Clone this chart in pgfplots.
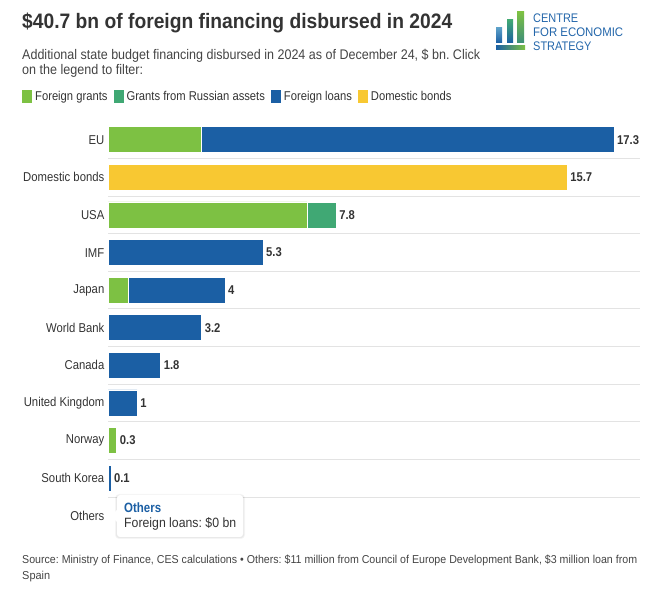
\documentclass[border=0pt]{standalone}
\usepackage{pgfplots}
\pgfplotsset{compat=1.18}
\usepackage{pgfplotstable}
\usepackage{graphicx}
\usepackage{fontspec}
\setmainfont{Liberation Sans}[FakeStretch=0.88]
\frenchspacing
\definecolor{cgreen}{HTML}{7DC143}
\definecolor{crus}{HTML}{40A874}
\definecolor{cblue}{HTML}{1B5FA4}
\definecolor{cyellow}{HTML}{F8C832}
\definecolor{ctext}{HTML}{333333}
\definecolor{csub}{HTML}{444444}
\definecolor{cgrid}{HTML}{E3E3E3}
\definecolor{clogo}{HTML}{2366AA}
\definecolor{clogoa}{HTML}{5B9FC8}
\definecolor{clogob}{HTML}{3C8E7A}
\newcommand\fitx[2]{\sbox0{#2}\pgfmathsetmacro\fitf{#1/\the\wd0}\scalebox{\fitf}[1]{\usebox0}}

\pgfplotstableread{
idx grants russian loans bonds
0 3.2 0 14.1 0
1 0 0 0 15.7
2 6.8 1.0 0 0
3 0 0 5.3 0
4 0.7 0 3.3 0
5 0 0 3.2 0
6 0 0 1.8 0
7 0 0 1.0 0
8 0.3 0 0 0
9 0 0 0.1 0
10 0 0 0.014 0
}\bars

\pgfplotstableread{
idx v lab
0 17.3 17.3
1 15.7 15.7
2 7.8 7.8
3 5.3 5.3
4 4.0 4
5 3.2 3.2
6 1.8 1.8
7 1.0 1
8 0.3 0.3
9 0.1 0.1
}\labs

\begin{document}
\begin{tikzpicture}[x=1bp,y=1bp]
\path[use as bounding box] (0,0) rectangle (666,594);
\begin{axis}[
  at={(108bp,473bp)}, anchor=north west,
  scale only axis, width=532bp, height=413.6bp,
  xmin=0, xmax=18.19, ymin=-0.5, ymax=10.5, y dir=reverse,
  xbar stacked, bar width=26bp,
  axis line style={draw=none},
  major tick length=0pt, minor tick length=0pt,
  xtick=\empty,
  ytick={0,1,2,3,4,5,6,7,8,9,10},
  yticklabels={EU,Domestic bonds,USA,IMF,Japan,World Bank,Canada,United Kingdom,Norway,South Korea,Others},
  minor ytick={0.5,1.5,2.5,3.5,4.5,5.5,6.5,7.5,8.5,9.5},
  yminorgrids, minor grid style={cgrid, line width=1bp},
  yticklabel style={font=\fontsize{12.9}{15}\selectfont, text=ctext, anchor=east, inner sep=0pt, xshift=-3.5bp},
  legend style={at={(axis description cs:-0.1617,1.075)}, anchor=north west, draw=none, fill=none,
    legend columns=-1, font=\fontsize{12.8}{14}\selectfont, text=ctext, inner sep=0pt,
    nodes={inner sep=0pt},
    /tikz/every odd column/.append style={column sep=3bp},
    /tikz/every even column/.append style={column sep=6bp}},
  legend image code/.code={\fill[#1,draw=none] (0bp,-6.5bp) rectangle (10bp,6.5bp);},
]
\addplot[fill=cgreen, draw=white, line width=0.7bp] table[x=grants,y=idx]{\bars};
\addlegendentry{Foreign grants}
\addplot[fill=crus, draw=white, line width=0.7bp] table[x=russian,y=idx]{\bars};
\addlegendentry{Grants from Russian assets}
\addplot[fill=cblue, draw=white, line width=0.7bp] table[x=loans,y=idx]{\bars};
\addlegendentry{Foreign loans}
\addplot[fill=cyellow, draw=white, line width=0.7bp] table[x=bonds,y=idx]{\bars};
\addlegendentry{Domestic bonds}
\end{axis}
\begin{axis}[
  at={(108bp,473bp)}, anchor=north west,
  scale only axis, width=532bp, height=413.6bp,
  xmin=0, xmax=18.19, ymin=-0.5, ymax=10.5, y dir=reverse,
  hide axis,
]
\addplot[draw=none, mark=none, nodes near coords, point meta=explicit symbolic,
  nodes near coords align={horizontal},
  every node near coord/.append style={anchor=west, font=\bfseries\fontsize{12.8}{14}\selectfont, text=ctext, inner sep=0pt, xshift=3bp}]
  table[x=v,y=idx,meta=lab]{\labs};
\end{axis}
% title and subtitle
\node[anchor=base west, inner sep=0pt, text=ctext, font=\bfseries\fontsize{21}{24}\selectfont] at (22,565) {\fitx{430bp}{\$40.7 bn of foreign financing disbursed in 2024}};
\node[anchor=base west, inner sep=0pt, text=csub, font=\fontsize{14}{16}\selectfont] at (22,534) {\fitx{458bp}{Additional state budget financing disbursed in 2024 as of December 24, \$ bn. Click}};
\node[anchor=base west, inner sep=0pt, text=csub, font=\fontsize{14}{16}\selectfont] at (22,519) {\fitx{121bp}{on the legend to filter:}};
% logo
\shade[bottom color=cblue, top color=clogoa] (496,551) rectangle (502,566);
\shade[bottom color=cblue, top color=crus] (507,551) rectangle (513,574);
\shade[bottom color=clogob, top color=cgreen] (517,551) rectangle (524,582);
\shade[left color=cblue, right color=cgreen] (496,544) rectangle (525,548);
\node[anchor=base west, inner sep=0pt, text=clogo, font=\fontsize{12.5}{14}\selectfont] at (533,571) {CENTRE};
\node[anchor=base west, inner sep=0pt, text=clogo, font=\fontsize{12.5}{14}\selectfont] at (533,557) {\fitx{90bp}{FOR ECONOMIC}};
\node[anchor=base west, inner sep=0pt, text=clogo, font=\fontsize{12.5}{14}\selectfont] at (533,543) {STRATEGY};
% tooltip
\fill[black, opacity=0.04, rounded corners=4bp] (115,55) rectangle (245,100);
\fill[black, opacity=0.05, rounded corners=3bp] (116,56) rectangle (244,99);
\fill[white, rounded corners=3bp] (117,57) rectangle (243,99);
\fill[white] (118,85) -- (111,78) -- (118,71) -- cycle;
\node[anchor=base west, inner sep=0pt, text=cblue, font=\bfseries\fontsize{13.5}{15}\selectfont] at (124,81) {\fitx{37bp}{Others}};
\node[anchor=base west, inner sep=0pt, text=ctext, font=\fontsize{13.5}{15}\selectfont] at (124,66) {\fitx{112bp}{Foreign loans: \$0 bn}};
% footer
\node[anchor=base west, inner sep=0pt, text=csub, font=\fontsize{11.5}{13}\selectfont] at (22,30) {\fitx{615bp}{Source: Ministry of Finance, CES calculations \textbullet\ Others: \$11 million from Council of Europe Development Bank, \$3 million loan from}};
\node[anchor=base west, inner sep=0pt, text=csub, font=\fontsize{11.5}{13}\selectfont] at (22,14) {\fitx{28bp}{Spain}};
\end{tikzpicture}
\end{document}
